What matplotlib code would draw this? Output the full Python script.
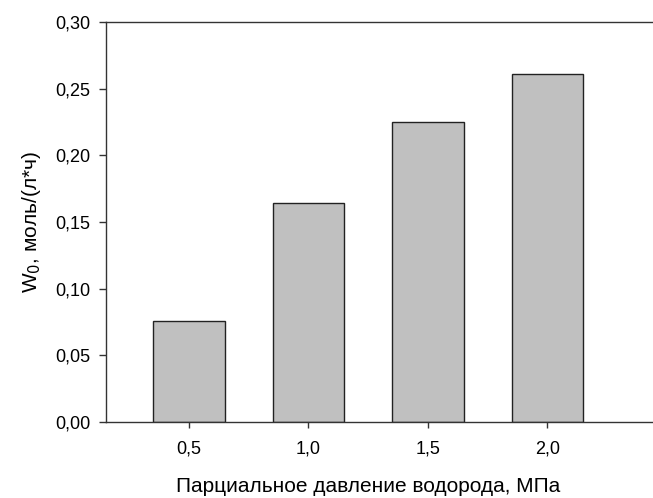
import matplotlib.pyplot as plt
from matplotlib.ticker import FuncFormatter

plt.rcParams['font.family'] = ['Liberation Sans', 'DejaVu Sans']

# partial hydrogen pressure, MPa and initial rate W0
pressure = [0.5, 1.0, 1.5, 2.0]
rate = [0.076, 0.164, 0.225, 0.261]
y_ticks = [0.00, 0.05, 0.10, 0.15, 0.20, 0.25, 0.30]

fig = plt.figure(figsize=(6.53, 4.98), dpi=100)
# frame runs off the right edge of the image
ax = fig.add_axes([106 / 653, 76 / 498, 560 / 653, 400 / 498])

ax.bar(pressure, rate, width=0.3, color="#c0c0c0", edgecolor="#222222", linewidth=1.0)

ax.set_xlim(0.153, 0.153 + 560 / 239)
ax.set_ylim(0, 0.30)
ax.set_xticks(pressure)
ax.set_yticks(y_ticks)

comma = FuncFormatter(lambda v, p: f"{v:.1f}".replace(".", ","))
comma2 = FuncFormatter(lambda v, p: f"{v:.2f}".replace(".", ","))
ax.xaxis.set_major_formatter(comma)
ax.yaxis.set_major_formatter(comma2)

ax.spines["right"].set_visible(False)
for s in ax.spines.values():
    s.set_color("#333333")
    s.set_linewidth(1.0)

ax.tick_params(axis="y", direction="out", length=5, width=1, color="#333333",
               labelsize=13, pad=6)
ax.tick_params(axis="x", direction="out", length=4, width=1, color="#333333",
               labelsize=13, pad=9)

ax.set_xlabel("Парциальное давление водорода, МПа", fontsize=15, labelpad=14)
ax.xaxis.label.set_x((368 - 106) / 560)
ax.set_ylabel("W$_0$, моль/(л*ч)", fontsize=15, labelpad=9)

fig.savefig("out.png", dpi=100)
